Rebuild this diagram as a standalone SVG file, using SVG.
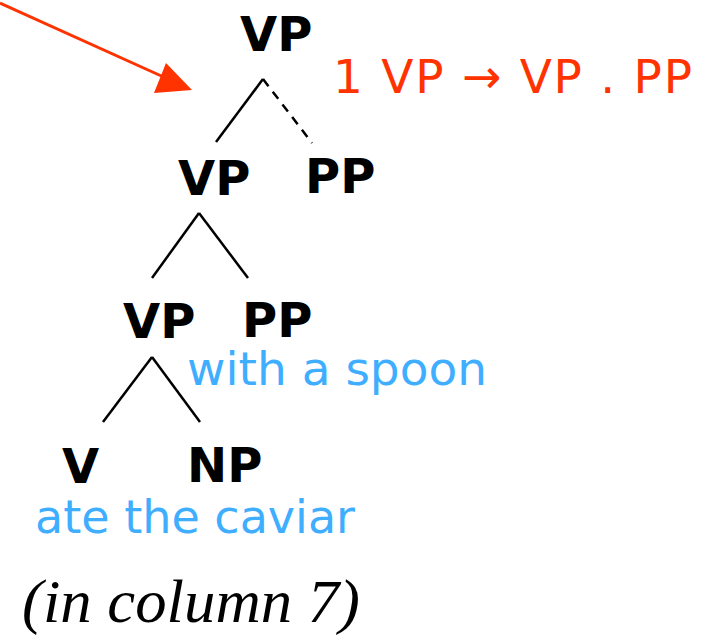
<svg xmlns="http://www.w3.org/2000/svg" width="701" height="637" viewBox="0 0 701 637">
<style>
.lbl{font-family:"DejaVu Sans","Verdana",sans-serif;font-weight:bold;font-size:48px;fill:#000}
.word{font-family:"DejaVu Sans","Verdana",sans-serif;font-size:46px;fill:#3FAEFF}
.rule{font-family:"DejaVu Sans","Verdana",sans-serif;font-size:47px;fill:#FF3300}
.note{font-family:"Liberation Serif","Times New Roman",serif;font-style:italic;font-size:61px;fill:#000}
.edge{stroke:#000;stroke-width:2.5;fill:none}
</style>
<rect width="701" height="637" fill="#fff"/>
<g id="connectors">
<line class="edge" x1="263" y1="79" x2="216" y2="142"/>
<line class="edge" x1="263" y1="79" x2="312" y2="143" stroke-dasharray="9,7"/>
<line class="edge" x1="199" y1="213" x2="152" y2="278"/>
<line class="edge" x1="199" y1="213" x2="248" y2="278"/>
<line class="edge" x1="152" y1="357" x2="103" y2="422"/>
<line class="edge" x1="152" y1="357" x2="200" y2="422"/>
<line x1="0" y1="3" x2="168" y2="79" stroke="#FF3300" stroke-width="3"/>
<polygon points="154,93 166,63 192,90" fill="#FF3300"/>
</g>
<g id="vp-top"><text class="lbl" x="240" y="51">VP</text></g>
<g id="vp-2"><text class="lbl" x="178" y="195">VP</text></g>
<g id="pp-2"><text class="lbl" x="305" y="193">PP</text></g>
<g id="vp-3"><text class="lbl" x="123" y="338">VP</text></g>
<g id="pp-3"><text class="lbl" x="242" y="337">PP</text></g>
<g id="v"><text class="lbl" x="62" y="483">V</text></g>
<g id="np"><text class="lbl" x="187" y="482">NP</text></g>
<text class="word" x="187" y="385" textLength="300" lengthAdjust="spacingAndGlyphs">with a spoon</text>
<text class="word" x="35" y="533" textLength="320" lengthAdjust="spacingAndGlyphs">ate the caviar</text>
<text class="rule" x="333" y="93" textLength="359" lengthAdjust="spacing">1 VP → VP . PP</text>
<text class="note" x="22" y="622" textLength="338" lengthAdjust="spacingAndGlyphs">(in column 7)</text>
</svg>
